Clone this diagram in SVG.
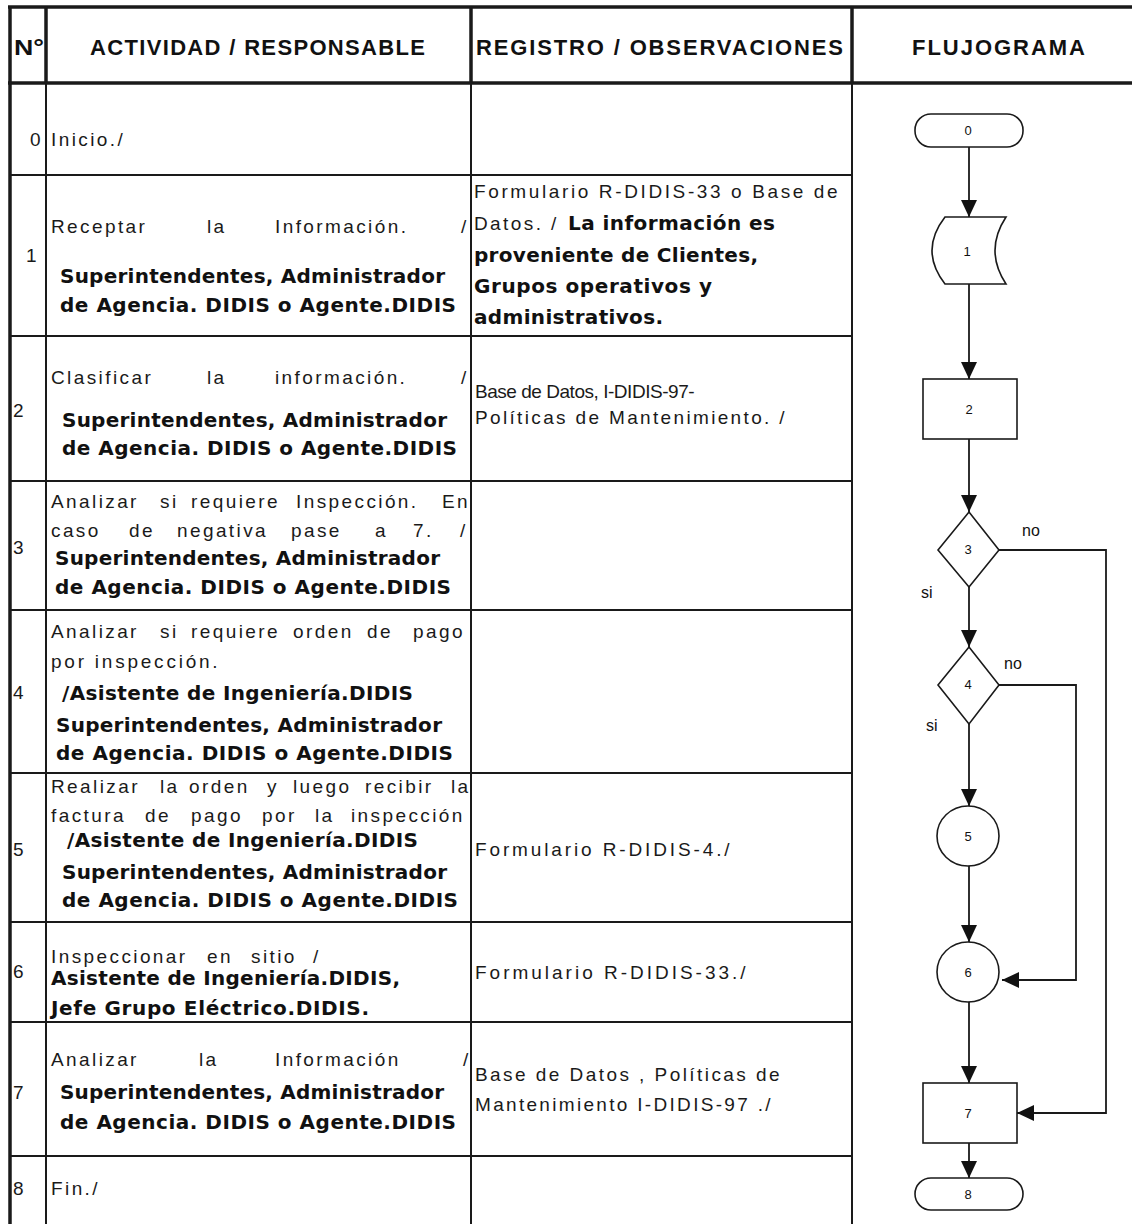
<svg xmlns="http://www.w3.org/2000/svg" width="1132" height="1224" viewBox="0 0 1132 1224">
<style>
.r{font-family:"Liberation Sans",Arial,sans-serif;font-size:19px;letter-spacing:2.4px;fill:#1a1a1a}
.b{font-family:"DejaVu Sans",Verdana,sans-serif;font-weight:bold;font-size:20px;fill:#111}
.h{font-family:"Liberation Sans",Arial,sans-serif;font-weight:bold;font-size:22px;fill:#111}
.n{font-family:"Liberation Sans",Arial,sans-serif;font-size:19px;fill:#1a1a1a}
.f{font-family:"Liberation Sans",Arial,sans-serif;font-size:13px;fill:#111;text-anchor:middle}
.l{font-family:"Liberation Sans",Arial,sans-serif;font-size:16px;fill:#111}
.thick{stroke:#1a1a1a;stroke-width:3.5;fill:none}
.thin{stroke:#1a1a1a;stroke-width:2;fill:none}
.node{fill:#fff;stroke:#1a1a1a;stroke-width:1.6}
.con{fill:none;stroke:#1a1a1a;stroke-width:1.8}
</style>
<defs>
<marker id="arr" markerUnits="userSpaceOnUse" markerWidth="18" markerHeight="18" refX="17" refY="8" orient="auto">
<path d="M0,0 L17,8 L0,16 Z" fill="#111"/>
</marker>
</defs>
<rect width="1132" height="1224" fill="#fff"/>
<g id="table">
<line class="thick" x1="8" y1="7" x2="1132" y2="7"/>
<line class="thick" x1="8" y1="83" x2="1132" y2="83"/>
<line class="thick" x1="10" y1="6" x2="10" y2="1224"/>
<line class="thick" x1="46" y1="6" x2="46" y2="83"/>
<line class="thick" x1="471" y1="6" x2="471" y2="83"/>
<line class="thick" x1="852" y1="6" x2="852" y2="83"/>
<line class="thin" x1="46" y1="83" x2="46" y2="1224"/>
<line class="thin" x1="471" y1="83" x2="471" y2="1224"/>
<line class="thin" x1="852" y1="83" x2="852" y2="1224"/>
<line class="thin" x1="10" y1="175" x2="852" y2="175"/>
<line class="thin" x1="10" y1="336" x2="852" y2="336"/>
<line class="thin" x1="10" y1="481" x2="852" y2="481"/>
<line class="thin" x1="10" y1="610" x2="852" y2="610"/>
<line class="thin" x1="10" y1="773" x2="852" y2="773"/>
<line class="thin" x1="10" y1="922" x2="852" y2="922"/>
<line class="thin" x1="10" y1="1022" x2="852" y2="1022"/>
<line class="thin" x1="10" y1="1156" x2="852" y2="1156"/>
</g>
<g id="header">
<text class="h" x="14" y="55" textLength="30" lengthAdjust="spacingAndGlyphs">N°</text>
<text class="h" x="90" y="55" textLength="335" lengthAdjust="spacing">ACTIVIDAD / RESPONSABLE</text>
<text class="h" x="476" y="55" textLength="367" lengthAdjust="spacing">REGISTRO / OBSERVACIONES</text>
<text class="h" x="912" y="55" textLength="173" lengthAdjust="spacing">FLUJOGRAMA</text>
</g>
<g id="row-0">
<text class="n" x="30" y="146">0</text>
<text class="r" x="51" y="146">Inicio./</text>
</g>
<g id="row-1">
<text class="n" x="26" y="262">1</text>
<text class="r" y="233"><tspan x="51">Receptar</tspan><tspan x="207">la</tspan><tspan x="275">Información.</tspan><tspan x="461">/</tspan></text>
<text class="b" x="60" y="283" textLength="385" lengthAdjust="spacing">Superintendentes, Administrador</text>
<text class="b" x="60" y="312" textLength="396" lengthAdjust="spacing">de Agencia. DIDIS o Agente.DIDIS</text>
<text class="r" x="474" y="198" textLength="366" lengthAdjust="spacing">Formulario R-DIDIS-33 o Base de</text>
<text class="r" x="474" y="230">Datos. /</text>
<text class="b" x="568" y="230" textLength="207" lengthAdjust="spacing">La información es</text>
<text class="b" x="474" y="262" textLength="284" lengthAdjust="spacing">proveniente de Clientes,</text>
<text class="b" x="474" y="293" textLength="238" lengthAdjust="spacing">Grupos operativos y</text>
<text class="b" x="474" y="324" textLength="189" lengthAdjust="spacing">administrativos.</text>
</g>
<g id="row-2">
<text class="n" x="13" y="417">2</text>
<text class="r" y="384"><tspan x="51">Clasificar</tspan><tspan x="207">la</tspan><tspan x="275">información.</tspan><tspan x="461">/</tspan></text>
<text class="b" x="62" y="427" textLength="385" lengthAdjust="spacing">Superintendentes, Administrador</text>
<text class="b" x="62" y="455" textLength="395" lengthAdjust="spacing">de Agencia. DIDIS o Agente.DIDIS</text>
<text class="r" x="475" y="398" textLength="222" lengthAdjust="spacing">Base de Datos, I-DIDIS-97-</text>
<text class="r" x="475" y="424" textLength="312" lengthAdjust="spacing">Políticas de Mantenimiento. /</text>
</g>
<g id="row-3">
<text class="n" x="13" y="554">3</text>
<text class="r" y="508"><tspan x="51">Analizar</tspan><tspan x="160">si</tspan><tspan x="191">requiere</tspan><tspan x="296">Inspección.</tspan><tspan x="442">En</tspan></text>
<text class="r" y="537"><tspan x="51">caso</tspan><tspan x="129">de</tspan><tspan x="177">negativa</tspan><tspan x="291">pase</tspan><tspan x="375">a</tspan><tspan x="413">7.</tspan><tspan x="460">/</tspan></text>
<text class="b" x="55" y="565" textLength="385" lengthAdjust="spacing">Superintendentes, Administrador</text>
<text class="b" x="55" y="594" textLength="396" lengthAdjust="spacing">de Agencia. DIDIS o Agente.DIDIS</text>
</g>
<g id="row-4">
<text class="n" x="13" y="699">4</text>
<text class="r" y="638"><tspan x="51">Analizar</tspan><tspan x="160">si</tspan><tspan x="191">requiere</tspan><tspan x="293">orden</tspan><tspan x="367">de</tspan><tspan x="413">pago</tspan></text>
<text class="r" x="51" y="668" textLength="169" lengthAdjust="spacing">por inspección.</text>
<text class="b" x="62" y="700" textLength="351" lengthAdjust="spacing">/Asistente de Ingeniería.DIDIS</text>
<text class="b" x="56" y="732" textLength="386" lengthAdjust="spacing">Superintendentes, Administrador</text>
<text class="b" x="56" y="760" textLength="397" lengthAdjust="spacing">de Agencia. DIDIS o Agente.DIDIS</text>
</g>
<g id="row-5">
<text class="n" x="13" y="856">5</text>
<text class="r" y="793"><tspan x="51">Realizar</tspan><tspan x="160">la</tspan><tspan x="189">orden</tspan><tspan x="267">y</tspan><tspan x="293">luego</tspan><tspan x="365">recibir</tspan><tspan x="451">la</tspan></text>
<text class="r" y="822"><tspan x="51">factura</tspan><tspan x="145">de</tspan><tspan x="191">pago</tspan><tspan x="262">por</tspan><tspan x="315">la</tspan><tspan x="351">inspección</tspan></text>
<text class="b" x="67" y="847" textLength="351" lengthAdjust="spacing">/Asistente de Ingeniería.DIDIS</text>
<text class="b" x="62" y="879" textLength="385" lengthAdjust="spacing">Superintendentes, Administrador</text>
<text class="b" x="62" y="907" textLength="396" lengthAdjust="spacing">de Agencia. DIDIS o Agente.DIDIS</text>
<text class="r" x="475" y="856" textLength="257" lengthAdjust="spacing">Formulario  R-DIDIS-4./</text>
</g>
<g id="row-6">
<text class="n" x="13" y="978">6</text>
<text class="r" y="963"><tspan x="51">Inspeccionar</tspan><tspan x="207">en</tspan><tspan x="251">sitio</tspan><tspan x="313">/</tspan></text>
<text class="b" x="51" y="985" textLength="349" lengthAdjust="spacing">Asistente de Ingeniería.DIDIS,</text>
<text class="b" x="51" y="1015" textLength="318" lengthAdjust="spacing">Jefe Grupo Eléctrico.DIDIS.</text>
<text class="r" x="475" y="979" textLength="273" lengthAdjust="spacing">Formulario  R-DIDIS-33./</text>
</g>
<g id="row-7">
<text class="n" x="13" y="1099">7</text>
<text class="r" y="1066"><tspan x="51">Analizar</tspan><tspan x="199">la</tspan><tspan x="275">Información</tspan><tspan x="463">/</tspan></text>
<text class="b" x="60" y="1099" textLength="384" lengthAdjust="spacing">Superintendentes, Administrador</text>
<text class="b" x="60" y="1129" textLength="396" lengthAdjust="spacing">de Agencia. DIDIS o Agente.DIDIS</text>
<text class="r" x="475" y="1081" textLength="307" lengthAdjust="spacing">Base de Datos , Políticas de</text>
<text class="r" x="475" y="1111" textLength="298" lengthAdjust="spacing">Mantenimiento I-DIDIS-97 ./</text>
</g>
<g id="row-8">
<text class="n" x="13" y="1195">8</text>
<text class="r" x="51" y="1195">Fin./</text>
</g>
<g id="connectors">
<line class="con" x1="969" y1="147" x2="969" y2="217" marker-end="url(#arr)"/>
<line class="con" x1="969" y1="284" x2="969" y2="379" marker-end="url(#arr)"/>
<line class="con" x1="969" y1="439" x2="969" y2="512" marker-end="url(#arr)"/>
<line class="con" x1="969" y1="587" x2="969" y2="647" marker-end="url(#arr)"/>
<line class="con" x1="969" y1="724" x2="969" y2="806" marker-end="url(#arr)"/>
<line class="con" x1="969" y1="866" x2="969" y2="942" marker-end="url(#arr)"/>
<line class="con" x1="969" y1="1002" x2="969" y2="1083" marker-end="url(#arr)"/>
<line class="con" x1="969" y1="1143" x2="969" y2="1178" marker-end="url(#arr)"/>
<polyline class="con" points="999,685 1076,685 1076,980 1002,980" marker-end="url(#arr)"/>
<polyline class="con" points="999,550 1106,550 1106,1113 1017,1113" marker-end="url(#arr)"/>
<text class="l" x="1022" y="536">no</text>
<text class="l" x="921" y="598">si</text>
<text class="l" x="1004" y="669">no</text>
<text class="l" x="926" y="731">si</text>
</g>
<g id="node-0">
<rect class="node" x="915" y="114" width="108" height="33" rx="16"/>
<text class="f" x="968" y="135">0</text>
</g>
<g id="node-1">
<path class="node" d="M945,217 L1006,217 Q984,250.5 1006,284 L945,284 Q919,250.5 945,217 Z"/>
<text class="f" x="967" y="256">1</text>
</g>
<g id="node-2">
<rect class="node" x="923" y="379" width="94" height="60"/>
<text class="f" x="969" y="414">2</text>
</g>
<g id="node-3">
<polygon class="node" points="969,512 999,550 969,587 938,550"/>
<text class="f" x="968" y="554">3</text>
</g>
<g id="node-4">
<polygon class="node" points="969,647 999,685 969,724 938,685"/>
<text class="f" x="968" y="689">4</text>
</g>
<g id="node-5">
<ellipse class="node" cx="968" cy="836" rx="31" ry="30"/>
<text class="f" x="968" y="841">5</text>
</g>
<g id="node-6">
<ellipse class="node" cx="968" cy="972" rx="31" ry="30"/>
<text class="f" x="968" y="977">6</text>
</g>
<g id="node-7">
<rect class="node" x="923" y="1083" width="94" height="60"/>
<text class="f" x="968" y="1118">7</text>
</g>
<g id="node-8">
<rect class="node" x="915" y="1178" width="108" height="32" rx="16"/>
<text class="f" x="968" y="1199">8</text>
</g>
</svg>
